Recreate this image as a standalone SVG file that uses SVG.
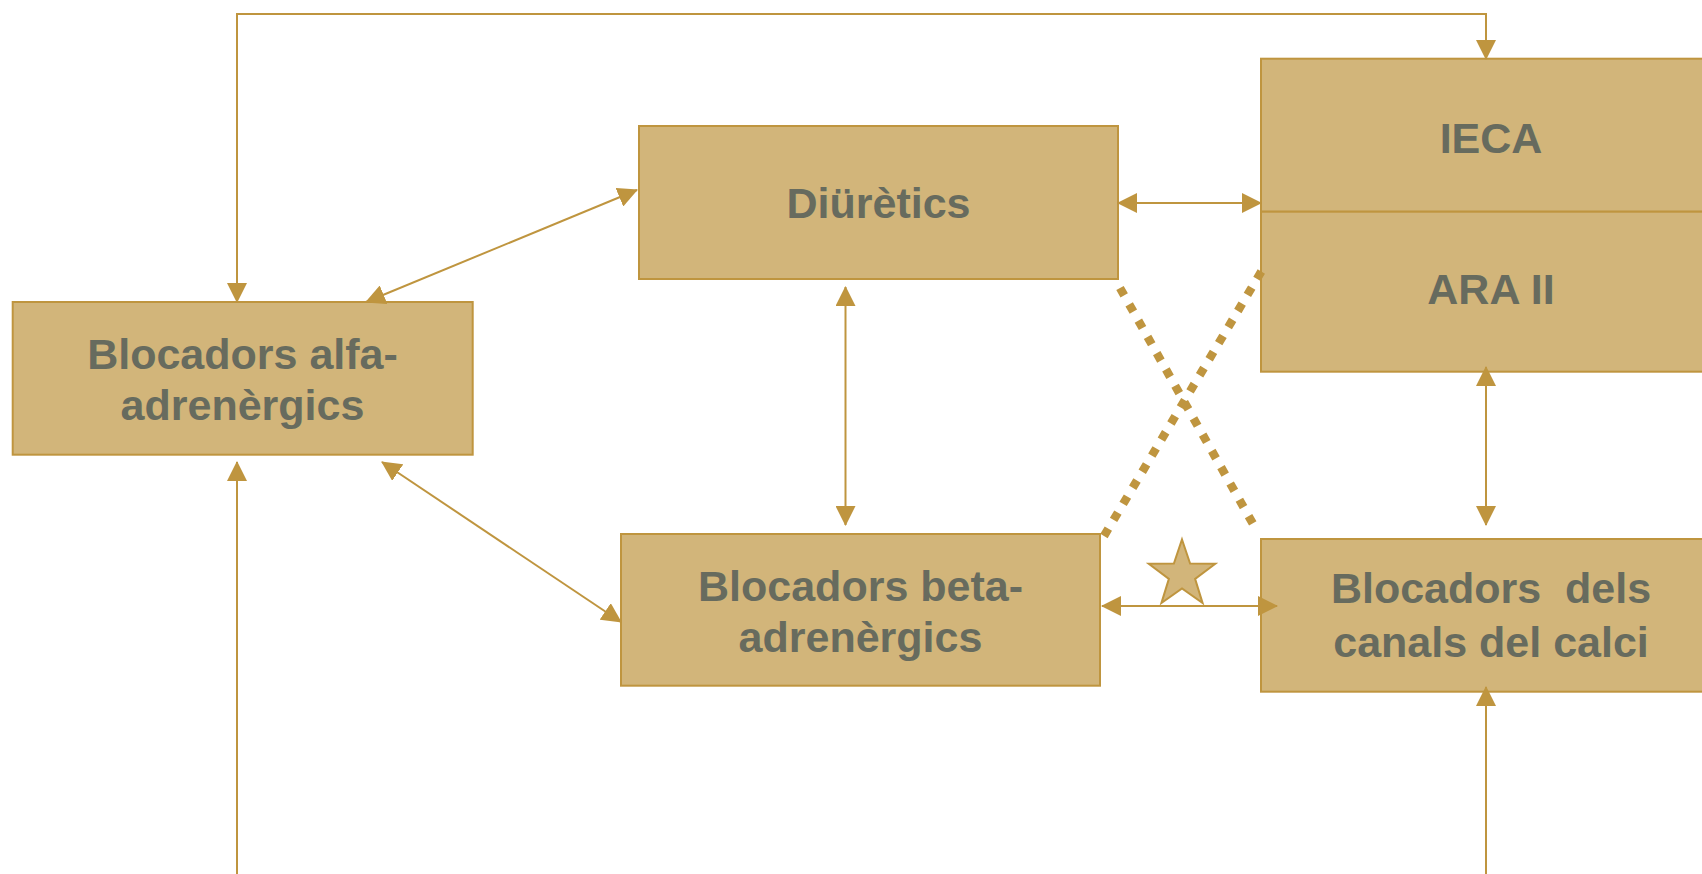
<svg xmlns="http://www.w3.org/2000/svg" width="1702" height="874" viewBox="0 0 1702 874">
<style>
.box{fill:#D2B57A;stroke:#BF953F;stroke-width:2}
.lbl{font-family:"Liberation Sans",Arial,sans-serif;font-weight:bold;font-size:43px;fill:#676B5E;text-anchor:middle;white-space:pre}
.con{fill:none;stroke:#BF953F;stroke-width:2}
.dot{fill:none;stroke:#BF953F;stroke-width:8.5;stroke-dasharray:8.5 10.2}
.star{fill:#D2B57A;stroke:#BF953F;stroke-width:2}
</style>
<defs>
<marker id="ah" markerUnits="userSpaceOnUse" markerWidth="20" markerHeight="20" refX="19" refY="10" orient="auto-start-reverse" viewBox="0 0 20 20">
<path d="M0,0 L20,10 L0,20 z" fill="#BF953F"/>
</marker>
</defs>
<rect width="1702" height="874" fill="#FFFFFF"/>
<g id="node-alfa">
<rect class="box" x="12.7" y="302" width="460" height="152.7"/>
<text class="lbl" x="242.5" y="369">Blocadors alfa-</text>
<text class="lbl" x="242.5" y="419.5">adrenèrgics</text>
</g>
<g id="node-diuretics">
<rect class="box" x="639" y="126" width="479" height="153"/>
<text class="lbl" x="878.5" y="218.3">Diürètics</text>
</g>
<g id="node-ieca">
<rect class="box" x="1261" y="58.7" width="460" height="153"/>
<text class="lbl" x="1491" y="152.7">IECA</text>
</g>
<g id="node-ara">
<rect class="box" x="1261" y="211.7" width="460" height="160"/>
<text class="lbl" x="1491" y="304">ARA II</text>
</g>
<g id="node-beta">
<rect class="box" x="621" y="534" width="479" height="151.7"/>
<text class="lbl" x="860.5" y="601">Blocadors beta-</text>
<text class="lbl" x="860.5" y="651.7">adrenèrgics</text>
</g>
<g id="node-calci">
<rect class="box" x="1261" y="539" width="460" height="152.7"/>
<text class="lbl" x="1491" y="603.3">Blocadors  dels</text>
<text class="lbl" x="1491" y="656.7">canals del calci</text>
</g>
<g id="connectors">
<path class="con" d="M237,302 V14 H1486 V59" marker-start="url(#ah)" marker-end="url(#ah)"/>
<path class="con" d="M366,302 L637,190" marker-start="url(#ah)" marker-end="url(#ah)"/>
<path class="con" d="M1118,203 L1261,203" marker-start="url(#ah)" marker-end="url(#ah)"/>
<path class="con" d="M845.5,287 L845.5,525" marker-start="url(#ah)" marker-end="url(#ah)"/>
<path class="con" d="M382,462 L621,622" marker-start="url(#ah)" marker-end="url(#ah)"/>
<path class="con" d="M1102,606 L1277,606" marker-start="url(#ah)" marker-end="url(#ah)"/>
<path class="con" d="M1486,367 L1486,525" marker-start="url(#ah)" marker-end="url(#ah)"/>
<path class="con" d="M237,874 L237,462" marker-end="url(#ah)"/>
<path class="con" d="M1486,874 L1486,687" marker-end="url(#ah)"/>
<path class="dot" d="M1120,288 L1257,531"/>
<path class="dot" d="M1104,536 L1264,267"/>
</g>
<g id="star">
<polygon class="star" points="1182,539.5 1190.1,563.6 1215.3,563.8 1195.1,578.9 1202.6,603.1 1182,588.5 1161.4,603.1 1168.9,578.9 1148.7,563.8 1173.9,563.6"/>
</g>
</svg>
